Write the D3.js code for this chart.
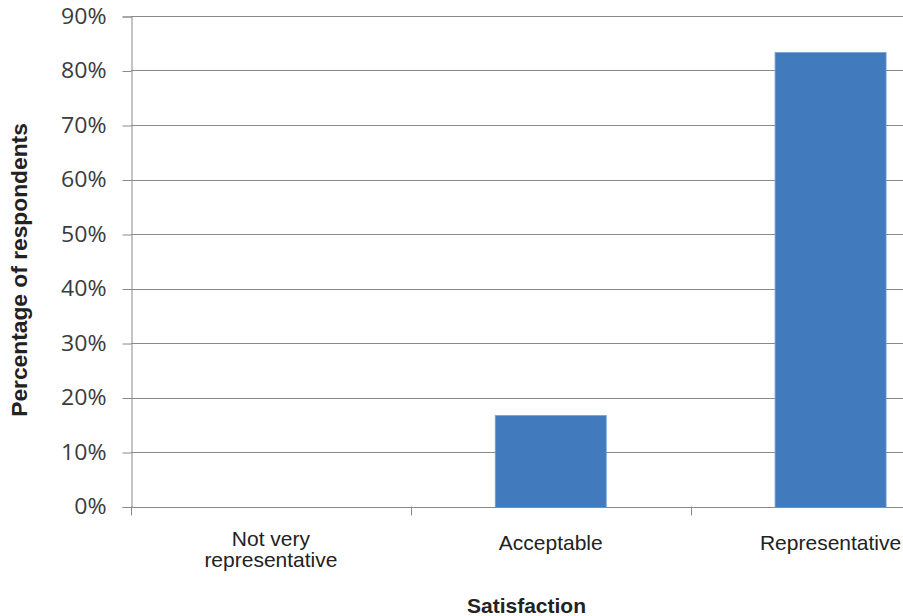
<!DOCTYPE html>
<html>
<head>
<meta charset="utf-8">
<script src="https://cdn.jsdelivr.net/npm/d3@7"></script>
<style>
  html, body { margin: 0; padding: 0; background: #fff; }
  svg { display: block; }
</style>
</head>
<body>
<svg id="chart" width="903" height="616"></svg>
<script>
// Survey result: share of respondents per satisfaction rating
const categories = ["Not very representative", "Acceptable", "Representative"];
const categoryLines = [["Not very", "representative"], ["Acceptable"], ["Representative"]];
const shares = [0, 0.167, 0.833];
const yTicks = [0, 0.1, 0.2, 0.3, 0.4, 0.5, 0.6, 0.7, 0.8, 0.9];

const svg = d3.select("#chart");

// Plot frame; the right end of the category band runs past the canvas edge
const plotLeft = 131, plotRight = 970.5, plotTop = 16, plotBottom = 506.5;
const axisColor = "#8a8a8a";

const x = d3.scaleBand().domain(categories).range([plotLeft, plotRight]).paddingInner(0.6033).paddingOuter(0.3017);
const y = d3.scaleLinear().domain([0, 0.9]).range([plotBottom, plotTop]);

// Horizontal gridlines
svg.append("g")
  .selectAll("line")
  .data(yTicks)
  .join("line")
  .attr("x1", plotLeft).attr("x2", plotRight)
  .attr("y1", d => Math.round(y(d)) + 0.5).attr("y2", d => Math.round(y(d)) + 0.5)
  .attr("stroke", axisColor).attr("stroke-width", 1);

// Bars (a zero share draws nothing)
svg.append("g")
  .selectAll("rect")
  .data(categories.map((c, i) => ({ c, v: shares[i] })).filter(d => d.v > 0))
  .join("rect")
  .attr("x", d => x(d.c))
  .attr("width", x.bandwidth())
  .attr("y", d => y(d.v))
  .attr("height", d => Math.round(y(0)) + 0.5 - y(d.v))
  .attr("fill", "#417bbd")
  .attr("stroke", "#75a0d3")
  .attr("stroke-width", 0.8);

// Y axis
const tickLen = 9, tickGap = 16, yStretch = 1.1;
const yAxis = d3.axisLeft(y).tickValues(yTicks).tickFormat(d3.format(".0%"))
  .tickSizeOuter(0).tickSize(tickLen).tickPadding(tickGap);
const gy = svg.append("g").attr("transform", `translate(${plotLeft + 0.5},0.5)`).call(yAxis);
gy.select(".domain").attr("stroke", axisColor);
gy.selectAll(".tick line").attr("stroke", axisColor);
gy.selectAll(".tick text")
  .attr("fill", "#3b3b3b")
  .attr("x", -(tickLen + tickGap) / yStretch)
  .attr("transform", `scale(${yStretch},1)`)
  .style("font-family", "'Open Sans', sans-serif")
  .style("font-size", "21px");

// X axis baseline with category boundary ticks
svg.append("line")
  .attr("x1", plotLeft).attr("x2", plotRight)
  .attr("y1", Math.round(plotBottom) + 0.5).attr("y2", Math.round(plotBottom) + 0.5)
  .attr("stroke", axisColor);
const boundaries = d3.range(categories.length + 1).map(i => plotLeft + i * (plotRight - plotLeft) / categories.length);
svg.append("g")
  .selectAll("line")
  .data(boundaries)
  .join("line")
  .attr("x1", d => Math.round(d) + 0.5).attr("x2", d => Math.round(d) + 0.5)
  .attr("y1", plotBottom).attr("y2", plotBottom + 9)
  .attr("stroke", axisColor);

// Category labels
const labelFont = "'Liberation Sans', Arial, sans-serif";
categories.forEach((c, i) => {
  const lines = categoryLines[i];
  const cx = x(c) + x.bandwidth() / 2;
  const t = svg.append("text")
    .attr("x", cx)
    .attr("text-anchor", "middle")
    .attr("fill", "#222")
    .style("font-family", labelFont)
    .style("font-size", "21px");
  const baseY = lines.length > 1 ? 546 : 550;
  lines.forEach((ln, j) => {
    t.append("tspan").attr("x", cx).attr("y", baseY + j * 21).text(ln);
  });
});

// Axis titles
svg.append("text")
  .attr("x", 526.5).attr("y", 612.5)
  .attr("text-anchor", "middle")
  .attr("fill", "#222")
  .style("font-family", labelFont)
  .style("font-weight", "bold")
  .style("font-size", "21px")
  .text("Satisfaction");

svg.append("text")
  .attr("transform", "translate(27,270) rotate(-90) scale(1.06,1)")
  .attr("text-anchor", "middle")
  .attr("fill", "#222")
  .style("font-family", labelFont)
  .style("font-weight", "bold")
  .style("font-size", "21.5px")
  .text("Percentage of respondents");
</script>
</body>
</html>
